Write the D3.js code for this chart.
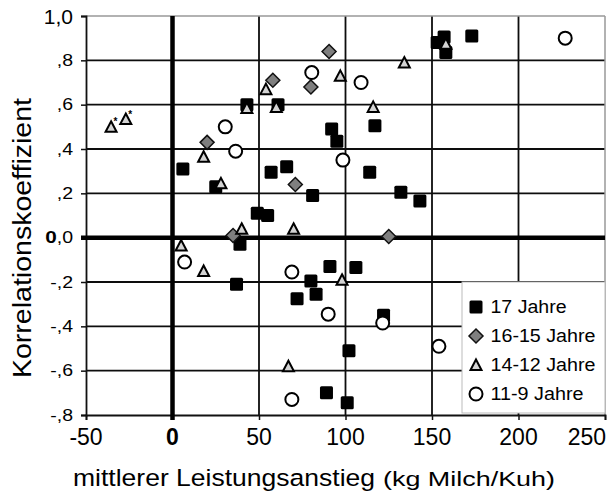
<!DOCTYPE html>
<html><head><meta charset="utf-8">
<script src="https://cdn.jsdelivr.net/npm/d3@7"></script>
<style>body{margin:0;background:#fff}svg{display:block}text{font-family:"Liberation Sans",Arial,sans-serif;fill:#000}</style>
</head><body>
<svg id="c" width="608" height="498"></svg>
<script>
// ---- data ----
const seriesNames = ["17 Jahre", "16-15 Jahre", "14-12 Jahre", "11-9 Jahre"];
const sq17X = [6, 25, 43, 61, 57, 66, 49, 55, 39, 37, 81, 91, 106, 80, 83, 72, 122, 102, 89, 101, 92, 95, 117, 114, 132, 143, 153, 157, 158, 173];
const sq17Y = [0.31, 0.23, 0.60, 0.60, 0.295, 0.32, 0.11, 0.10, -0.03, -0.21, 0.19, -0.13, -0.135, -0.195, -0.255, -0.275, -0.35, -0.51, -0.70, -0.745, 0.49, 0.435, 0.505, 0.295, 0.205, 0.165, 0.88, 0.905, 0.835, 0.91];
const dia1615X = [20, 58, 71, 35, 90.5, 80, 125];
const dia1615Y = [0.43, 0.71, 0.24, 0.01, 0.84, 0.68, 0.005];
const tri1412X = [-35.5, -27, 18, 28, 43, 54, 60, 40, 70, 5, 18, 67, 98, 97, 134, 116, 158];
const tri1412Y = [0.50, 0.535, 0.365, 0.245, 0.585, 0.67, 0.59, 0.04, 0.04, -0.035, -0.15, -0.58, -0.19, 0.73, 0.79, 0.59, 0.875];
const tri1412Star = [true, true, false, false, false, false, false, false, false, false, false, false, false, false, false, false, false];
const circ119X = [30.5, 36.5, 7, 69, 90, 121.5, 69, 154, 80.5, 109, 98.5, 227];
const circ119Y = [0.50, 0.39, -0.11, -0.155, -0.345, -0.385, -0.73, -0.49, 0.745, 0.70, 0.35, 0.90];
const xTicks = [-50, 0, 50, 100, 150, 200, 250];
const xTickLabels = ["-50", "0", "50", "100", "150", "200", "250"];
const yTicks = [1.0, 0.8, 0.6, 0.4, 0.2, 0.0, -0.2, -0.4, -0.6, -0.8];
const yTickLabels = ["1,0", ",8", ",6", ",4", ",2", "0,0", "-,2", "-,4", "-,6", "-,8"];
const xTitle1 = "mittlerer Leistungsanstieg";
const xTitle2 = "(kg Milch/Kuh)";
const yTitle = "Korrelationskoeffizient";

// ---- scales ----
const svg = d3.select("#c");
const x = d3.scaleLinear().domain([-50, 250]).range([86, 605]);
const y = d3.scaleLinear().domain([-0.8, 1.0]).range([415, 16]);

// grid
const grid = svg.append("g");
grid.selectAll("line.v").data(xTicks.filter(v => v !== -50 && v !== 0 && v !== 250)).join("line")
  .attr("x1", d => x(d)).attr("x2", d => x(d)).attr("y1", y(1)).attr("y2", y(-0.8))
  .attr("stroke", "#0d0d0d").attr("stroke-width", 1.8);
grid.selectAll("line.h").data(yTicks.filter(v => v !== 1 && v !== 0 && v !== -0.8)).join("line")
  .attr("x1", x(-50)).attr("x2", x(250)).attr("y1", d => y(d)).attr("y2", d => y(d))
  .attr("stroke", "#0d0d0d").attr("stroke-width", 1.8);
// frame top/right
svg.append("line").attr("x1", x(-50)).attr("x2", x(250)).attr("y1", y(1)).attr("y2", y(1)).attr("stroke", "#999").attr("stroke-width", 1.5);
svg.append("line").attr("x1", x(250)).attr("x2", x(250)).attr("y1", y(1)).attr("y2", y(-0.8)).attr("stroke", "#999").attr("stroke-width", 1.5);

// axes
const xAxis = d3.axisBottom(x).tickValues(xTicks).tickSize(5).tickFormat("");
const gx = svg.append("g").attr("transform", `translate(0,${y(-0.8)})`).call(xAxis);
gx.select(".domain").attr("stroke", "#111").attr("stroke-width", 1.8);
gx.selectAll(".tick line").attr("stroke", "#111").attr("stroke-width", 1.5);
const yAxis = d3.axisLeft(y).tickValues(yTicks).tickSize(5).tickFormat("");
const gy = svg.append("g").attr("transform", `translate(${x(-50)},0)`).call(yAxis);
gy.select(".domain").attr("stroke", "#111").attr("stroke-width", 1.8);
gy.selectAll(".tick line").attr("stroke", "#111").attr("stroke-width", 1.5);

// zero lines
svg.append("line").attr("x1", x(0)).attr("x2", x(0)).attr("y1", y(1)).attr("y2", y(-0.8) + 5).attr("stroke", "#000").attr("stroke-width", 4.5);
svg.append("line").attr("x1", x(-50) - 5).attr("x2", x(250)).attr("y1", y(0)).attr("y2", y(0)).attr("stroke", "#000").attr("stroke-width", 4.5);

// tick labels
xTicks.forEach((v, i) => {
  const last = i === xTicks.length - 1;
  svg.append("text").attr("x", last ? x(v) + 1 : x(v)).attr("y", 445)
    .attr("text-anchor", last ? "end" : "middle")
    .attr("font-size", 23).attr("font-weight", v === 0 ? "bold" : "normal")
    .text(xTickLabels[i]);
});
yTicks.forEach((v, i) => {
  const lab = yTickLabels[i];
  const g = svg.append("g").attr("transform", `translate(73,${y(v)}) scale(${v === 1 ? 1.0 : 1.22},1)`);
  const t = g.append("text").attr("text-anchor", "end").attr("dy", "0.36em")
    .attr("font-size", v === 1 ? 21 : 16);
  if (v === 0) {
    t.append("tspan").attr("font-weight", "bold").attr("font-size", 17).text(lab[0]);
    t.append("tspan").text(lab.slice(1));
  } else t.text(lab);
});

// titles
svg.append("text").attr("x", 73).attr("y", 486).attr("font-size", 24.5)
  .attr("textLength", 302).attr("lengthAdjust", "spacingAndGlyphs").text(xTitle1);
svg.append("text").attr("x", 383).attr("y", 486).attr("font-size", 21)
  .attr("textLength", 172).attr("lengthAdjust", "spacingAndGlyphs").text(xTitle2);
svg.append("text").attr("transform", "translate(31,238) rotate(-90)").attr("text-anchor", "middle")
  .attr("font-size", 25).attr("textLength", 280).attr("lengthAdjust", "spacingAndGlyphs").text(yTitle);

// marker drawers
function sq(g, cx, cy) {
  g.append("rect").attr("x", cx - 6.5).attr("y", cy - 6.5).attr("width", 13).attr("height", 13)
    .attr("rx", 1.5).attr("fill", "#000");
}
function dia(g, cx, cy) {
  g.append("path").attr("d", `M${cx},${cy - 7}L${cx + 7},${cy}L${cx},${cy + 7}L${cx - 7},${cy}Z`)
    .attr("fill", "#7f7f7f").attr("stroke", "#111").attr("stroke-width", 1.5);
}
function tri(g, cx, cy) {
  g.append("path").attr("d", `M${cx},${cy - 5.5}L${cx + 5.5},${cy + 5}L${cx - 5.5},${cy + 5}Z`)
    .attr("fill", "#d4d4d4").attr("stroke", "#000").attr("stroke-width", 2).attr("stroke-linejoin", "miter");
}
function circ(g, cx, cy) {
  g.append("circle").attr("cx", cx).attr("cy", cy).attr("r", 6.5)
    .attr("fill", "#fff").attr("stroke", "#000").attr("stroke-width", 2);
}

const marks = svg.append("g");
sq17X.forEach((v, i) => sq(marks, x(v), y(sq17Y[i])));
dia1615X.forEach((v, i) => dia(marks, x(v), y(dia1615Y[i])));
tri1412X.forEach((v, i) => {
  tri(marks, x(v), y(tri1412Y[i]));
  if (tri1412Star[i]) marks.append("text").attr("x", x(v) + 2.5).attr("y", y(tri1412Y[i]) - 1.5)
    .attr("font-size", 10).attr("font-weight", "bold").text("*");
});
circ119X.forEach((v, i) => circ(marks, x(v), y(circ119Y[i])));

// legend
const lg = svg.append("g");
lg.append("rect").attr("x", 462).attr("y", 282).attr("width", 143).attr("height", 131)
  .attr("fill", "#fff").attr("stroke", "#bbb").attr("stroke-width", 1);
const drawers = [sq, dia, tri, circ];
const legW = [76, 105, 105, 93];
seriesNames.forEach((n, i) => {
  const cy = 307 + i * 29;
  drawers[i](lg, 476, cy);
  lg.append("text").attr("x", 490.5).attr("y", cy).attr("dy", "0.36em").attr("font-size", 17.5)
    .attr("textLength", legW[i]).attr("lengthAdjust", "spacingAndGlyphs").text(n);
});
</script>
</body></html>
